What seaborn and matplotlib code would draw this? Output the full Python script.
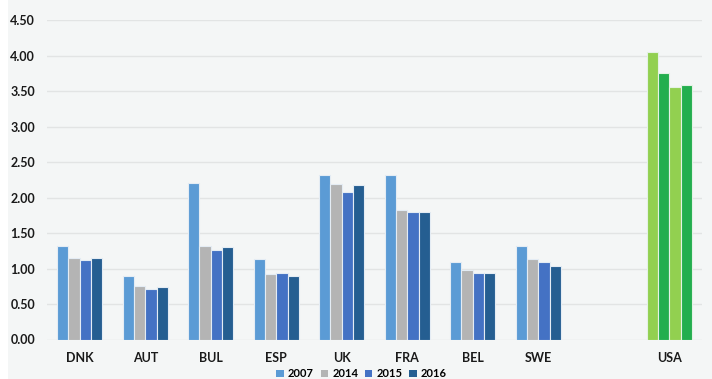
import matplotlib
matplotlib.use("Agg")
import matplotlib.pyplot as plt
from matplotlib.patches import Patch, Rectangle
import pandas as pd
import seaborn as sns

countries = ["DNK", "AUT", "BUL", "ESP", "UK", "FRA", "BEL", "SWE", "USA"]
years = ["2007", "2014", "2015", "2016"]
v2007 = [1.31, 0.90, 2.21, 1.13, 2.32, 2.32, 1.09, 1.31, 4.05]
v2014 = [1.15, 0.75, 1.32, 0.92, 2.19, 1.83, 0.98, 1.14, 3.76]
v2015 = [1.12, 0.71, 1.26, 0.93, 2.08, 1.80, 0.93, 1.09, 3.56]
v2016 = [1.15, 0.74, 1.30, 0.90, 2.17, 1.79, 0.93, 1.04, 3.58]
y_ticks = [0.0, 0.5, 1.0, 1.5, 2.0, 2.5, 3.0, 3.5, 4.0, 4.5]

blue_colors = ["#5b9bd5", "#b4b4b4", "#4472c4", "#255e91"]
usa_colors = ["#92d050", "#23ae4e", "#92d050", "#23ae4e"]
bg = "#f4f6f6"

rows = []
for y, vals in zip(years, [v2007, v2014, v2015, v2016]):
    for c, v in zip(countries, vals):
        rows.append({"country": c, "year": y, "value": v})
df = pd.DataFrame(rows)

# a blank slot separates the European countries from the USA
order = countries[:-1] + [" "] + ["USA"]

plt.rcParams["font.family"] = ["Lato", "DejaVu Sans"]
fig = plt.figure(figsize=(7.12, 3.79), dpi=100, facecolor=bg)
fig.patches.append(Rectangle((0, 0), 8 / 712, 1, transform=fig.transFigure,
                             facecolor="white", edgecolor="none", zorder=-1))
ax = fig.add_axes([47 / 712, 1 - 339.5 / 379, 655 / 712, 319.5 / 379])
ax.set_facecolor(bg)

sns.barplot(data=df, x="country", y="value", hue="year", order=order,
            hue_order=years, palette=blue_colors, saturation=1, width=0.69,
            edgecolor="#e4ecf4", linewidth=0.8, ax=ax, legend=False,
            errorbar=None, zorder=3)

# USA bars take the green palette
usa_pos = order.index("USA")
for i, cont in enumerate(ax.containers):
    for patch in cont.patches:
        cx = patch.get_x() + patch.get_width() / 2
        if abs(cx - usa_pos) < 0.5:
            patch.set_facecolor(usa_colors[i])
            patch.set_edgecolor("#e4f2e4")

ax.set_xlim(-0.5, len(order) - 0.5)
ax.set_ylim(0, 4.5)
ax.set_yticks(y_ticks)
ax.set_yticklabels([f"{t:.2f}" for t in y_ticks], fontsize=9, fontweight="bold")
ax.set_xticks(range(len(order)))
ax.set_xticklabels(order, fontsize=9, fontweight="bold")
ax.tick_params(axis="both", length=0, colors="#1a1a1a")
ax.tick_params(axis="y", pad=8.5)
ax.tick_params(axis="x", pad=9)
ax.set_xlabel("")
ax.set_ylabel("")
ax.grid(axis="y", color="#e2e4e4", linewidth=1, zorder=0)
ax.set_axisbelow(True)
for s in ax.spines.values():
    s.set_visible(False)

handles = [Patch(facecolor=c, edgecolor="none", label=y)
           for c, y in zip(blue_colors, years)]
fig.legend(handles=handles, loc="center", bbox_to_anchor=(0.508, 0.014),
           ncol=4, frameon=False, prop={"weight": "bold", "size": 8},
           handlelength=0.65, handleheight=0.65, handletextpad=0.4,
           columnspacing=0.6, borderpad=0)

fig.savefig("out.png", dpi=100, facecolor=bg)
